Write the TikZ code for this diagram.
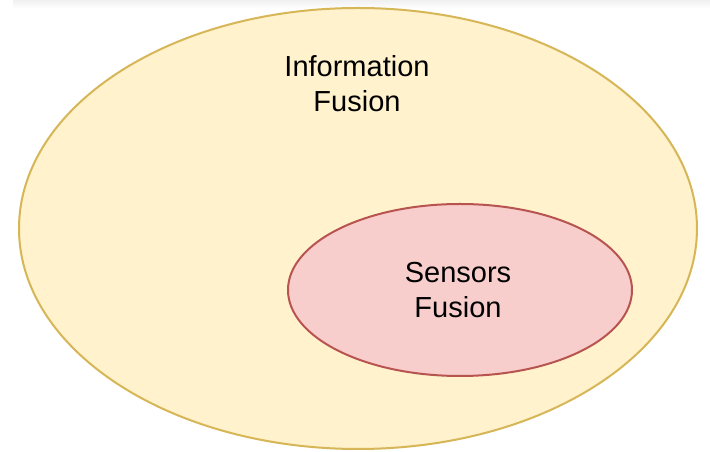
\documentclass[tikz,border=0pt]{standalone}
\usepackage{fontspec}
\setmainfont{Liberation Sans}
\definecolor{outerfill}{HTML}{FFF2CC}
\definecolor{outerline}{HTML}{D6B656}
\definecolor{innerfill}{HTML}{F8CECC}
\definecolor{innerline}{HTML}{B85450}
\tikzset{
  zone/.style={line width=2pt},
  label/.style={align=center, font=\fontsize{29}{35}\selectfont, text=black}
}
\begin{document}
\begin{tikzpicture}[x=1pt,y=1pt]
  \useasboundingbox (0,0) rectangle (710,452);
  \fill[white] (0,0) rectangle (710,452);
  % faint band along the top edge
  \shade[top color=gray!12, bottom color=white] (13,444) rectangle (710,452);
  % outer set
  \draw[zone, fill=outerfill, draw=outerline] (358,223.5) ellipse [x radius=339, y radius=220.5];
  % inner set
  \draw[zone, fill=innerfill, draw=innerline] (460,162) ellipse [x radius=172, y radius=86];
  \node[label] (info) at (357,368) {Information\\Fusion};
  \node[label] (sens) at (458,162) {Sensors\\Fusion};
\end{tikzpicture}
\end{document}
